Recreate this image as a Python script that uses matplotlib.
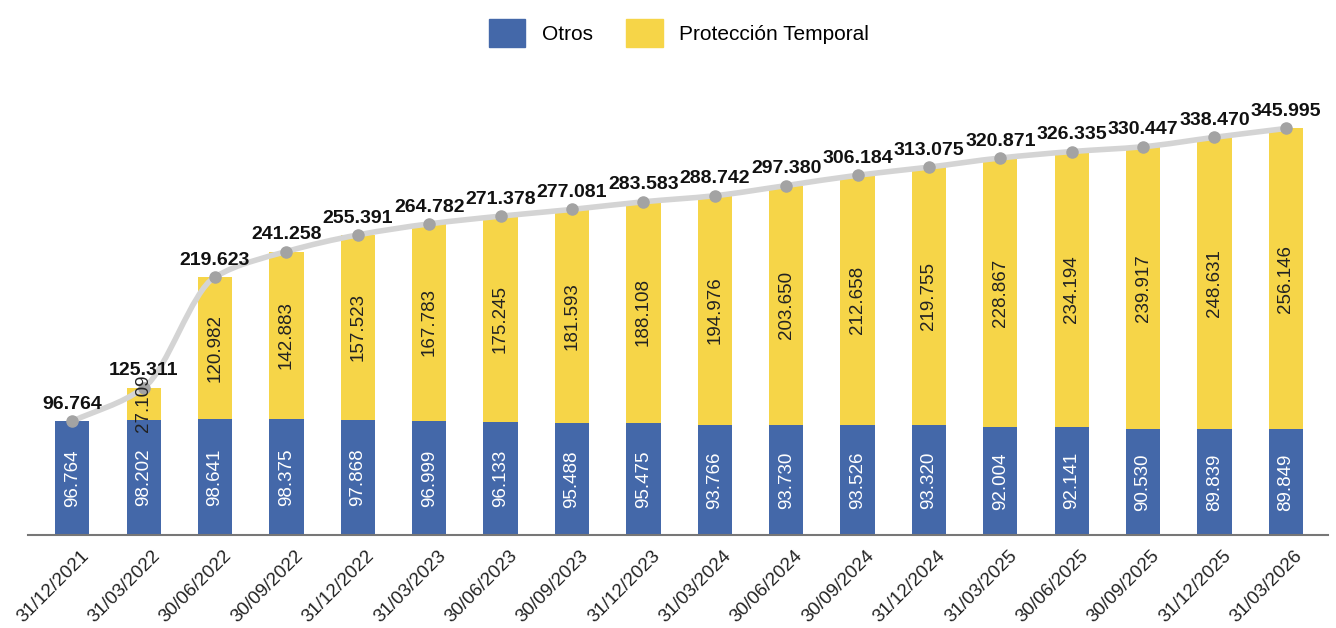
import matplotlib
matplotlib.use("Agg")
import matplotlib.pyplot as plt
import matplotlib.transforms as mtransforms
from matplotlib.path import Path
from matplotlib.patches import PathPatch, Patch
import numpy as np

plt.rcParams['font.family'] = ['Liberation Sans', 'DejaVu Sans']

fechas = ["31/12/2021", "31/03/2022", "30/06/2022", "30/09/2022", "31/12/2022",
          "31/03/2023", "30/06/2023", "30/09/2023", "31/12/2023", "31/03/2024",
          "30/06/2024", "30/09/2024", "31/12/2024", "31/03/2025", "30/06/2025",
          "30/09/2025", "31/12/2025", "31/03/2026"]
otros = [96764, 98202, 98641, 98375, 97868, 96999, 96133, 95488, 95475, 93766,
         93730, 93526, 93320, 92004, 92141, 90530, 89839, 89849]
proteccion = [0, 27109, 120982, 142883, 157523, 167783, 175245, 181593, 188108,
              194976, 203650, 212658, 219755, 228867, 234194, 239917, 248631, 256146]
totales = [96764, 125311, 219623, 241258, 255391, 264782, 271378, 277081, 283583,
           288742, 297380, 306184, 313075, 320871, 326335, 330447, 338470, 345995]

AZUL = "#4468A9"
AMARILLO = "#F6D548"
GRIS_LINEA = "#D4D4D4"
GRIS_PUNTO = "#A3A3A3"

def fmt(v):
    return f"{v:,}".replace(",", ".")

fig = plt.figure(figsize=(13.36, 6.28), dpi=100)
W, H = 1336, 628
ax = fig.add_axes([28 / W, 93 / H, (1328 - 28) / W, (535 - 65) / H])

x = np.arange(len(fechas))
bw = 0.48
ax.bar(x, otros, width=bw, color=AZUL, zorder=2)
ax.bar(x, proteccion, width=bw, bottom=otros, color=AMARILLO, zorder=2)

# smoothed total line (monotone cubic Bezier through data points)
xs = x.astype(float)
ys = np.array(totales, dtype=float)
d = np.diff(ys) / np.diff(xs)
m = np.zeros_like(ys)
m[0], m[-1] = d[0], d[-1]
for i in range(1, len(ys) - 1):
    if d[i - 1] * d[i] <= 0:
        m[i] = 0
    else:
        m[i] = 2 / (1 / d[i - 1] + 1 / d[i])
verts = [(xs[0], ys[0])]
codes = [Path.MOVETO]
for i in range(len(xs) - 1):
    h = xs[i + 1] - xs[i]
    verts += [(xs[i] + h / 3, ys[i] + m[i] * h / 3),
              (xs[i + 1] - h / 3, ys[i + 1] - m[i + 1] * h / 3),
              (xs[i + 1], ys[i + 1])]
    codes += [Path.CURVE4] * 3
ax.add_patch(PathPatch(Path(verts, codes), facecolor="none", edgecolor=GRIS_LINEA,
                       lw=4, zorder=3, capstyle="round", joinstyle="round"))
ax.plot(x, totales, linestyle="none", marker="o", ms=8, color=GRIS_PUNTO, zorder=4)

for i in range(len(x)):
    ax.text(x[i], otros[i] / 2, fmt(otros[i]), rotation=90, ha="center", va="center",
            color="white", fontsize=13.5, zorder=5)
    if proteccion[i] > 0:
        ax.text(x[i], otros[i] + proteccion[i] / 2, fmt(proteccion[i]), rotation=90,
                ha="center", va="center", color="#222222", fontsize=13.5, zorder=5)
    ax.annotate(fmt(totales[i]), (x[i], totales[i]), xytext=(0, 6),
                textcoords="offset points", ha="center", va="bottom",
                fontsize=14, fontweight="bold", color="#111111", zorder=6)

ax.set_xlim(-0.62, len(x) - 1 + 0.59)
ax.set_ylim(0, 400000)
ax.set_xticks(x)
ax.set_xticklabels(fechas, rotation=45, ha="right", rotation_mode="anchor",
                   fontsize=13.5, color="#222222")
ax.tick_params(axis="x", length=0, pad=9)
offset = mtransforms.ScaledTranslation(8 / 100, 0, fig.dpi_scale_trans)
for lbl in ax.get_xticklabels():
    lbl.set_transform(lbl.get_transform() + offset)
ax.set_yticks([])
for s in ["top", "right", "left"]:
    ax.spines[s].set_visible(False)
ax.spines["bottom"].set_color("#777777")
ax.spines["bottom"].set_linewidth(1.5)

handles = [Patch(color=AZUL, label="Otros"), Patch(color=AMARILLO, label="Protección Temporal")]
fig.legend(handles=handles, loc="center", bbox_to_anchor=(679 / W, 1 - 33 / H), ncol=2,
           frameon=False, fontsize=15, handlelength=1.75, handleheight=1.75,
           handletextpad=0.8, columnspacing=1.6)

fig.savefig("out.png", dpi=100)
